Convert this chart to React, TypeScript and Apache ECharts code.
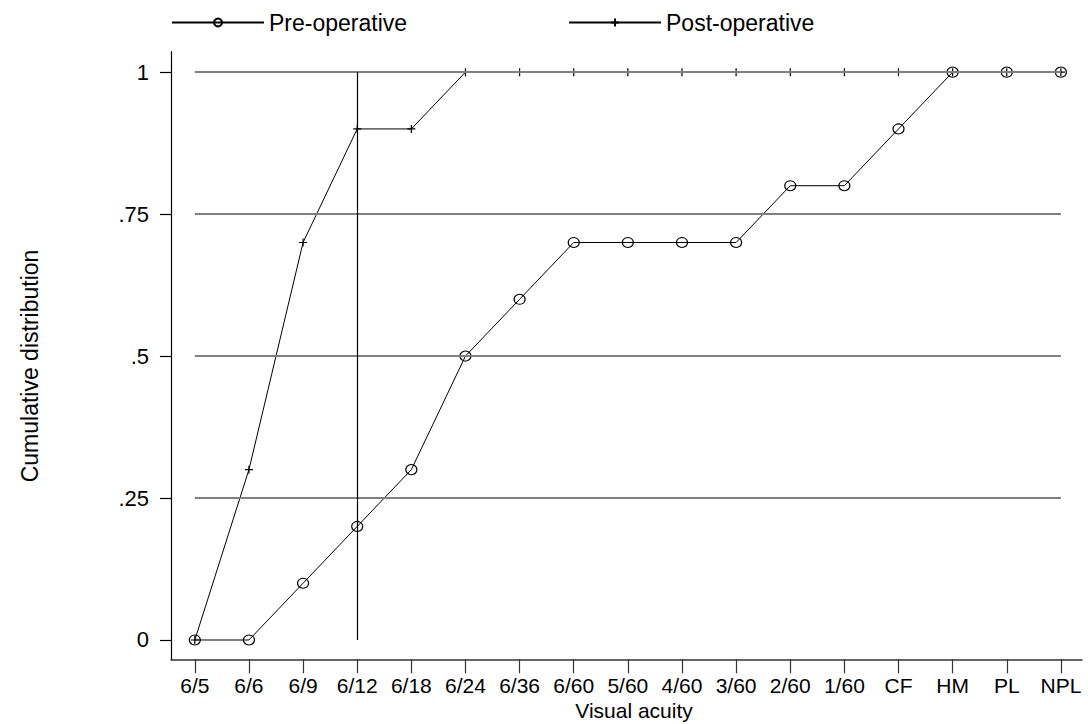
import React, { useEffect, useRef } from "react";
import * as echarts from "echarts";

const categories = ["6/5", "6/6", "6/9", "6/12", "6/18", "6/24", "6/36", "6/60", "5/60", "4/60", "3/60", "2/60", "1/60", "CF", "HM", "PL", "NPL"];
const preOperative = [0, 0, 0.1, 0.2, 0.3, 0.5, 0.6, 0.7, 0.7, 0.7, 0.7, 0.8, 0.8, 0.9, 1, 1, 1];
const postOperative = [0, 0.3, 0.7, 0.9, 0.9, 1, 1, 1, 1, 1, 1, 1, 1, 1, 1, 1, 1];
const yTicks = [0, 0.25, 0.5, 0.75, 1];
const yTickLabels = ["0", ".25", ".5", ".75", "1"];
const gridLevels = [0.25, 0.5, 0.75, 1];
const referenceCategory = "6/12";
const xTitle = "Visual acuity";
const yTitle = "Cumulative distribution";

const FONT = "'Liberation Sans', Arial, sans-serif";

export default function App() {
  const ref = useRef<HTMLDivElement>(null);
  useEffect(() => {
    if (!ref.current) return;
    const chart = echarts.init(ref.current, null, { renderer: "svg" });
    const idx = categories.map((_, i) => i);
    const last = categories.length - 1;
    const refIdx = categories.indexOf(referenceCategory);
    const plusPath = "path://M5,0 L5,10 M0,5 L10,5";
    const legendText = { fontFamily: FONT, fontSize: 23, color: "#000" };
    const option: any = {
      animation: false,
      backgroundColor: "#fff",
      textStyle: { fontFamily: FONT, color: "#000" },
      graphic: [
        {
          type: "text",
          x: 30,
          y: 366,
          rotation: Math.PI / 2,
          style: {
            text: yTitle,
            fontFamily: FONT,
            fontSize: 23,
            fill: "#000",
            align: "center",
            verticalAlign: "middle",
          },
        },
        {
          type: "text",
          x: 634,
          y: 710,
          style: {
            text: xTitle,
            fontFamily: FONT,
            fontSize: 21,
            fill: "#000",
            align: "center",
            verticalAlign: "middle",
          },
        },
      ],
      legend: [
        {
          data: ["Pre-operative"],
          left: 166,
          top: 6,
          itemWidth: 92,
          itemHeight: 10,
          itemGap: 0,
          textStyle: legendText,
        },
        {
          data: ["Post-operative"],
          left: 563,
          top: 6,
          itemWidth: 92,
          itemHeight: 10,
          itemGap: 0,
          textStyle: legendText,
        },
      ],
      grid: { left: 171, right: 6, top: 51.7, bottom: 64.7, containLabel: false, outerBoundsMode: "none" },
      xAxis: {
        type: "value",
        min: -0.44,
        max: last + 0.39,
        axisLine: { onZero: false, lineStyle: { color: "#333", width: 1.5 } },
        axisTick: { show: true, customValues: idx, length: 14, lineStyle: { color: "#333", width: 1.2 } },
        axisLabel: {
          customValues: idx,
          formatter: (v: number) => categories[Math.round(v)] ?? "",
          margin: 16,
          fontFamily: FONT,
          fontSize: 21,
          color: "#000",
          hideOverlap: false,
        },
        splitLine: { show: false },
      },
      yAxis: {
        type: "value",
        min: -0.034,
        max: 1.036,
        axisLine: { show: true, onZero: false, lineStyle: { color: "#000", width: 1.2 } },
        axisTick: { show: true, customValues: yTicks, length: 11, lineStyle: { color: "#000", width: 1.2 } },
        axisLabel: {
          customValues: yTicks,
          formatter: (v: number) => {
            const k = yTicks.findIndex((t) => Math.abs(t - v) < 1e-6);
            return k >= 0 ? yTickLabels[k] : "";
          },
          margin: 22,
          fontFamily: FONT,
          fontSize: 22,
          color: "#000",
        },
        splitLine: { show: false },
      },
      series: [
        {
          name: "Pre-operative",
          type: "line",
          data: preOperative.map((v, i) => [i, v]),
          symbol: "circle",
          symbolSize: [11, 10],
          showAllSymbol: true,
          lineStyle: { color: "#000", width: 1 },
          itemStyle: { color: "rgba(0,0,0,0)", borderColor: "#000", borderWidth: 1.1 },
          z: 3,
          markLine: {
            silent: true,
            symbol: "none",
            label: { show: false },
            animation: false,
            data: [
              ...gridLevels.map((g) => [
                { coord: [0, g], lineStyle: { color: "#808080", width: 2, type: "solid" } },
                { coord: [last, g] },
              ]),
              [
                { coord: [refIdx, 0], lineStyle: { color: "#000", width: 1.2, type: "solid" } },
                { coord: [refIdx, 1] },
              ],
            ],
          },
        },
        {
          name: "Post-operative",
          type: "line",
          data: postOperative.map((v, i) => [i, v]),
          symbol: plusPath,
          symbolSize: 8,
          showAllSymbol: true,
          lineStyle: { color: "#000", width: 1 },
          itemStyle: { color: "none", borderColor: "#000", borderWidth: 1.2 },
          z: 4,
        },
      ],
    };
    chart.setOption(option);
    return () => chart.dispose();
  }, []);
  return (
    <div
      ref={ref}
      style={{ position: "fixed", left: 0, top: 0, width: 1088, height: 724, background: "#fff" }}
    />
  );
}
